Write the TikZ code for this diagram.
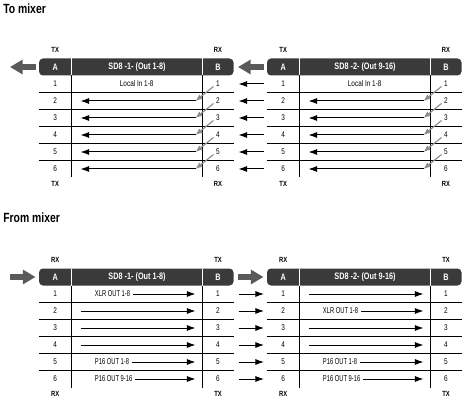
\documentclass[tikz,border=0pt]{standalone}
\usepackage{fontspec}
\setmainfont{Liberation Sans}[FakeStretch=0.78]
\newfontfamily\narrowsans{Liberation Sans}[FakeStretch=0.68]
\usetikzlibrary{arrows.meta}
\definecolor{barfill}{HTML}{3A3A3A}
\definecolor{feedgray}{HTML}{5A5A5A}
\definecolor{hintgray}{HTML}{8C8C8C}

\begin{document}
\begin{tikzpicture}[x=0.75pt,y=-0.75pt,
    heading/.style={anchor=base west,inner sep=0pt,font=\bfseries\fontsize{10}{12}\selectfont},
    port/.style={font=\bfseries\fontsize{5.6}{6}\selectfont},
    barlabel/.style={text=white,font=\bfseries\fontsize{7}{8}\selectfont},
    cell/.style={inner sep=2pt,font=\fontsize{6.2}{7}\selectfont},
    outlbl/.style={cell,anchor=west,font=\narrowsans\fontsize{6.4}{7}\selectfont},
    rowline/.style={line width=0.7pt},
    colline/.style={line width=0.8pt},
    sig/.style={line width=0.75pt,-{Latex[length=6.5pt,width=4.6pt]}},
    hint/.style={hintgray,line width=0.85pt,-{Latex[length=5.2pt,width=4.2pt]}},
    feed/.style={feedgray,line width=3.8pt,-{Triangle[length=9.5pt,width=10.5pt]}}]
  \useasboundingbox (0,0) rectangle (466,402);

  \node[heading] (tomix) at (3,13.5) {To mixer};
  \node[heading] (frommix) at (3,223) {From mixer};

  % one table per unit, x0/y0 = top left of the header bar
  \foreach \xo/\yo/\id/\ttl/\pa/\pb in {39/58.5/a/{SD8 -1- (Out 1-8)}/TX/RX,
      267/58.5/b/{SD8 -2- (Out 9-16)}/TX/RX,
      39/268.5/c/{SD8 -1- (Out 1-8)}/RX/TX,
      267/268.5/d/{SD8 -2- (Out 9-16)}/RX/TX}{
    \begin{scope}[shift={(\xo,\yo)}]
      \fill[barfill,rounded corners=3pt] (0,0) rectangle (194.5,17);
      \draw[white,line width=0.8pt] (32.5,0) -- (32.5,17) (163.5,0) -- (163.5,17);
      \draw[colline] (32.5,17) -- (32.5,119) (163.5,17) -- (163.5,119);
      \foreach \k in {1,...,5}
        \draw[rowline] (0,17+17*\k) -- (194.5,17+17*\k);
      \node[barlabel] (\id-A) at (16.2,8.5) {A};
      \node[barlabel] (\id-T) at (98,8.5) {\ttl};
      \node[barlabel] (\id-B) at (179,8.5) {B};
      \node[port] (\id-pa) at (16.2,-8.5) {\pa};
      \node[port] (\id-pb) at (179,-8.5) {\pb};
      \node[port] (\id-qa) at (16.2,125.5) {\pa};
      \node[port] (\id-qb) at (179,125.5) {\pb};
      \coordinate (\id-ft) at (-3.5,8.5);
      \coordinate (\id-fa) at (-29,8.5);
      \foreach \r in {1,...,6}{
        \node[cell] (\id-na\r) at (16.2,8.5+17*\r) {\r};
        \node[cell] (\id-nb\r) at (179,8.5+17*\r) {\r};
        \coordinate (\id-l\r) at (41.5,8.5+17*\r);
        \coordinate (\id-r\r) at (156.5,8.5+17*\r);
        \coordinate (\id-m\r) at (97.7,8.5+17*\r);
        \coordinate (\id-t\r) at (53,8.5+17*\r);
        \coordinate (\id-q\r) at (174.5,-6+17*\r);
        \coordinate (\id-in\r) at (-3,8.5+17*\r);
        \coordinate (\id-out\r) at (199.5,8.5+17*\r);
      }
    \end{scope}
  }

  % to mixer
  \draw[feed] (a-ft) -- (a-fa);
  \draw[feed] (b-ft) -- (b-fa);
  \foreach \id in {a,b}{
    \node[cell] (loc-\id) at (\id-m1) {Local In 1-8};
    \foreach \r in {2,...,6}{
      \draw[sig] (\id-r\r) -- (\id-l\r);
      \draw[hint] (\id-q\r) -- (\id-r\r);
    }
  }
  \foreach \r in {1,...,6}
    \draw[sig] (b-in\r) -- (a-out\r);

  % from mixer
  \draw[feed] (c-fa) -- (c-ft);
  \draw[feed] (d-fa) -- (d-ft);
  \foreach \id/\r/\txt in {c/1/XLR OUT 1-8, c/5/P16 OUT 1-8, c/6/P16 OUT 9-16,
      d/2/XLR OUT 1-8, d/5/P16 OUT 1-8, d/6/P16 OUT 9-16}{
    \node[outlbl] (lbl-\id\r) at (\id-t\r) {\txt};
    \draw[sig] (lbl-\id\r) -- (\id-r\r);
  }
  \foreach \id/\r in {c/2,c/3,c/4,d/1,d/3,d/4}
    \draw[sig] (\id-l\r) -- (\id-r\r);
  \foreach \r in {1,...,6}
    \draw[sig] (c-out\r) -- (d-in\r);
\end{tikzpicture}
\end{document}
